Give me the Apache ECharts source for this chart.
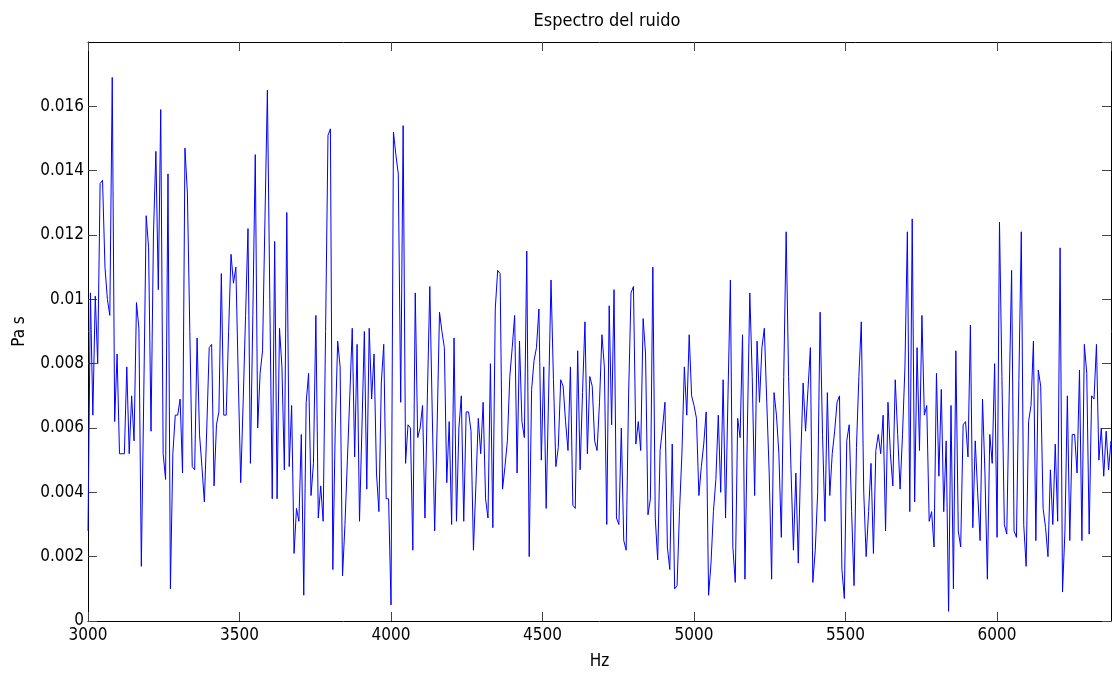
<!DOCTYPE html>
<html><head><meta charset="utf-8">
<script src="https://cdn.jsdelivr.net/npm/echarts@6/dist/echarts.min.js"></script>
<style>html,body{margin:0;padding:0;background:#fff}#c{width:1112px;height:675px}</style>
</head><body><div id="c"></div>
<script>
// Frequency grid (Hz): first bin and bin spacing
const F0 = 3000, DF = 8;
// Spectrum amplitude (Pa s), in order of frequency
const seg1 = [0.0028,0.0102,0.0064,0.0101,0.0080,0.0136,0.0137,0.0110,0.0100,0.0095,0.0169,0.0062,0.0083,0.0052,0.0052,0.0052,0.0079,0.0052,0.0070,0.0056,0.0099,0.0091,0.0017,0.0070,0.0126,0.0116,0.0059,0.0120,0.0146,0.0103,0.0159,0.0052,0.0044,0.0139,0.0010,0.0052,0.0064,0.0064,0.0069,0.0046,0.0147,0.0133];
const seg2 = [0.0090,0.0048,0.0047,0.0088,0.0058,0.0048,0.0037,0.0060,0.0085,0.0086,0.0042,0.0061,0.0065,0.0108,0.0064,0.0064,0.0090,0.0114,0.0105,0.0110,0.0075,0.0043,0.0068,0.0095,0.0122,0.0049,0.0095,0.0145,0.0060,0.0077,0.0084,0.0125,0.0165,0.0100,0.0038,0.0118,0.0038,0.0091,0.0079,0.0047,0.0127,0.0048];
const seg3 = [0.0067,0.0021,0.0035,0.0031,0.0058,0.0008,0.0068,0.0077,0.0039,0.0049,0.0095,0.0032,0.0042,0.0031,0.0090,0.0151,0.0153,0.0016,0.0060,0.0087,0.0079,0.0014,0.0030,0.0050,0.0070,0.0091,0.0051,0.0086,0.0031,0.0060,0.0090,0.0041,0.0091,0.0069,0.0083,0.0046,0.0034,0.0074,0.0086,0.0038,0.0038,0.0005];
const seg4 = [0.0152,0.0145,0.0139,0.0068,0.0154,0.0049,0.0061,0.0060,0.0022,0.0102,0.0057,0.0060,0.0067,0.0032,0.0070,0.0104,0.0065,0.0028,0.0060,0.0096,0.0090,0.0085,0.0043,0.0062,0.0030,0.0088,0.0031,0.0060,0.0070,0.0031,0.0065,0.0065,0.0059,0.0022,0.0042,0.0063,0.0052,0.0068,0.0038,0.0032,0.0080];
const seg5 = [0.0029,0.0097,0.0109,0.0108,0.0041,0.0048,0.0056,0.0076,0.0085,0.0095,0.0046,0.0087,0.0062,0.0057,0.0115,0.0020,0.0072,0.0081,0.0085,0.0097,0.0050,0.0079,0.0035,0.0070,0.0106,0.0075,0.0048,0.0054,0.0075,0.0073,0.0062,0.0053,0.0079,0.0036,0.0035,0.0084,0.0047,0.0071,0.0093,0.0052,0.0076];
const seg6 = [0.0073,0.0056,0.0053,0.0068,0.0089,0.0079,0.0030,0.0098,0.0061,0.0103,0.0032,0.0030,0.0060,0.0025,0.0022,0.0070,0.0102,0.0104,0.0055,0.0062,0.0053,0.0094,0.0083,0.0033,0.0038,0.0110,0.0032,0.0019,0.0053,0.0060,0.0068,0.0023,0.0016,0.0055,0.0010,0.0011,0.0034,0.0052,0.0079,0.0064,0.0089];
const seg7 = [0.0070,0.0067,0.0063,0.0039,0.0048,0.0055,0.0065,0.0008,0.0018,0.0034,0.0044,0.0064,0.0040,0.0075,0.0032,0.0070,0.0106,0.0023,0.0012,0.0063,0.0057,0.0089,0.0013,0.0060,0.0102,0.0076,0.0039,0.0087,0.0068,0.0085,0.0091,0.0068,0.0046,0.0013,0.0071,0.0064,0.0052,0.0026,0.0076,0.0121];
const seg8 = [0.0076,0.0047,0.0022,0.0046,0.0018,0.0050,0.0074,0.0059,0.0072,0.0085,0.0012,0.0022,0.0040,0.0096,0.0058,0.0031,0.0071,0.0039,0.0052,0.0059,0.0068,0.0070,0.0016,0.0007,0.0056,0.0061,0.0034,0.0011,0.0054,0.0076,0.0093,0.0040,0.0020,0.0034,0.0049,0.0021,0.0053,0.0058,0.0052,0.0064,0.0028,0.0068,0.0052];
const seg9 = [0.0042,0.0075,0.0058,0.0041,0.0058,0.0079,0.0121,0.0034,0.0125,0.0037,0.0085,0.0053,0.0095,0.0064,0.0067,0.0031,0.0034,0.0023,0.0077,0.0045,0.0072,0.0034,0.0056,0.0003,0.0067,0.0010,0.0084,0.0028,0.0023,0.0061,0.0062,0.0051,0.0092,0.0029,0.0056,0.0040,0.0025,0.0069,0.0046,0.0013,0.0058];
const seg10 = [0.0049,0.0080,0.0026,0.0124,0.0076,0.0030,0.0027,0.0070,0.0109,0.0028,0.0026,0.0075,0.0121,0.0030,0.0017,0.0062,0.0067,0.0087,0.0025,0.0078,0.0073,0.0035,0.0029,0.0020,0.0047,0.0030,0.0055,0.0031,0.0116,0.0009,0.0028,0.0070,0.0025,0.0058,0.0058,0.0046,0.0078,0.0025,0.0086,0.0077,0.0027,0.0070,0.0069,0.0086,0.0050,0.0060,0.0045,0.0059,0.0047,0.0056];
const amplitude = [].concat(seg1, seg2, seg3, seg4, seg5, seg6, seg7, seg8, seg9, seg10);
const freqs = amplitude.map((_, i) => F0 + i * DF);
// Axis ticks
const xTicks = [3000, 3500, 4000, 4500, 5000, 5500, 6000];
const yTicks = [0, 0.002, 0.004, 0.006, 0.008, 0.01, 0.012, 0.014, 0.016];
const Y_MAX = 0.018;

const FONT = "'Liberation Sans Narrow','DejaVu Sans Condensed','Liberation Sans',Arial,sans-serif";
const chart = echarts.init(document.getElementById('c'), null, {renderer: 'canvas'});
const xMin = xTicks[0], xMax = freqs[freqs.length - 1];
const xInt = xTicks[1] - xTicks[0], yInt = yTicks[1] - yTicks[0];
const tick = {show: true, inside: true, length: 9, lineStyle: {color: '#444', width: 1}};
const line = {show: true, onZero: false, lineStyle: {color: '#000', width: 1}};
chart.setOption({
  animation: false,
  backgroundColor: '#fff',
  title: {
    text: 'Espectro del ruido', left: 602, top: 7, textAlign: 'center',
    textStyle: {fontFamily: FONT, fontSize: 18, fontWeight: 'normal', color: '#000'}
  },
  grid: {left: 88, right: 1, top: 42, bottom: 54, containLabel: false, outerBoundsMode: 'none'},
  xAxis: [{
    type: 'value', min: xMin, max: xMax, interval: xInt, position: 'bottom',
    name: 'Hz', nameLocation: 'middle', nameGap: 32,
    nameTextStyle: {fontFamily: FONT, fontSize: 17, color: '#000'},
    axisLine: line, axisTick: tick, splitLine: {show: false},
    axisLabel: {fontFamily: FONT, fontSize: 17, color: '#000', margin: 6, showMaxLabel: false,
      formatter: v => xTicks.includes(v) ? String(v) : ''}
  }, {
    type: 'value', min: xMin, max: xMax, interval: xInt, position: 'top',
    axisLine: line, axisTick: tick, splitLine: {show: false}, axisLabel: {show: false}
  }],
  yAxis: [{
    type: 'value', min: 0, max: Y_MAX, interval: yInt, position: 'left',
    name: 'Pa s', nameLocation: 'middle', nameGap: 60, nameRotate: 90,
    nameTextStyle: {fontFamily: FONT, fontSize: 17, color: '#000'},
    axisLine: line, axisTick: tick, splitLine: {show: false},
    axisLabel: {fontFamily: FONT, fontSize: 17, color: '#000', margin: 4, showMaxLabel: false,
      formatter: v => {
        const t = yTicks.find(y => Math.abs(y - v) < 1e-9);
        return t === undefined ? '' : String(t);
      }}
  }, {
    type: 'value', min: 0, max: Y_MAX, interval: yInt, position: 'right',
    axisLine: line, axisTick: tick, splitLine: {show: false}, axisLabel: {show: false}
  }],
  series: [{
    type: 'line', xAxisIndex: 0, yAxisIndex: 0,
    data: freqs.map((f, i) => [f, amplitude[i]]),
    showSymbol: false, symbol: 'none',
    lineStyle: {color: '#0000ff', width: 1}
  }]
});
</script></body></html>
